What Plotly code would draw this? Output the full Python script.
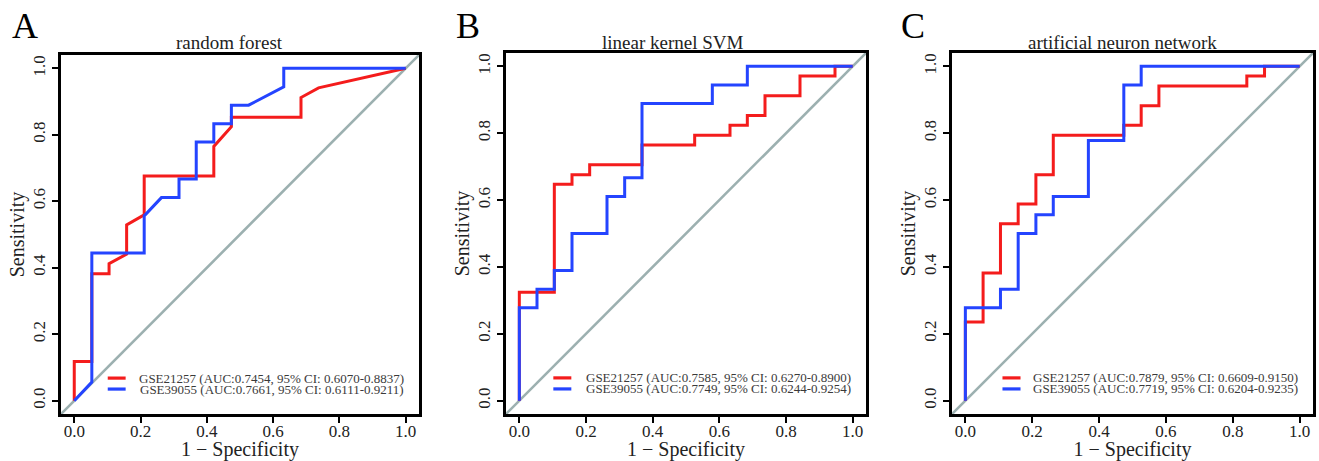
import plotly.graph_objects as go

# ---------------- data ----------------
panel_letters = ["A", "B", "C"]
panel_titles = ["random forest", "linear kernel SVM", "artificial neuron network"]
series_names = ["GSE21257", "GSE39055"]

# Panel A: random forest
rf_gse21257_fpr = [0, 0, 0.053, 0.053, 0.105, 0.105, 0.158, 0.158, 0.211, 0.211, 0.421, 0.421, 0.474, 0.474, 0.684, 0.684, 0.737, 1.0]
rf_gse21257_tpr = [0, 0.118, 0.118, 0.382, 0.382, 0.412, 0.441, 0.529, 0.559, 0.676, 0.676, 0.765, 0.824, 0.853, 0.853, 0.912, 0.941, 1.0]
rf_gse39055_fpr = [0, 0.053, 0.053, 0.211, 0.211, 0.263, 0.316, 0.316, 0.368, 0.368, 0.421, 0.421, 0.474, 0.474, 0.526, 0.632, 0.632, 1.0]
rf_gse39055_tpr = [0, 0.056, 0.444, 0.444, 0.556, 0.611, 0.611, 0.667, 0.667, 0.778, 0.778, 0.833, 0.833, 0.889, 0.889, 0.944, 1.0, 1.0]

# Panel B: linear kernel SVM
svm_gse21257_fpr = [0, 0, 0.105, 0.105, 0.158, 0.158, 0.211, 0.211, 0.368, 0.368, 0.526, 0.526, 0.632, 0.632, 0.684, 0.684, 0.737, 0.737, 0.842, 0.842, 0.947, 0.947, 1.0]
svm_gse21257_tpr = [0, 0.324, 0.324, 0.647, 0.647, 0.676, 0.676, 0.706, 0.706, 0.765, 0.765, 0.794, 0.794, 0.824, 0.824, 0.853, 0.853, 0.912, 0.912, 0.971, 0.971, 1.0, 1.0]
svm_gse39055_fpr = [0, 0, 0.053, 0.053, 0.105, 0.105, 0.158, 0.158, 0.263, 0.263, 0.316, 0.316, 0.368, 0.368, 0.579, 0.579, 0.684, 0.684, 1.0]
svm_gse39055_tpr = [0, 0.278, 0.278, 0.333, 0.333, 0.389, 0.389, 0.5, 0.5, 0.611, 0.611, 0.667, 0.667, 0.889, 0.889, 0.944, 0.944, 1.0, 1.0]

# Panel C: artificial neuron network
ann_gse21257_fpr = [0, 0, 0.053, 0.053, 0.105, 0.105, 0.158, 0.158, 0.211, 0.211, 0.263, 0.263, 0.474, 0.474, 0.526, 0.526, 0.579, 0.579, 0.842, 0.842, 0.895, 0.895, 1.0]
ann_gse21257_tpr = [0, 0.235, 0.235, 0.382, 0.382, 0.529, 0.529, 0.588, 0.588, 0.676, 0.676, 0.794, 0.794, 0.824, 0.824, 0.882, 0.882, 0.941, 0.941, 0.971, 0.971, 1.0, 1.0]
ann_gse39055_fpr = [0, 0, 0.105, 0.105, 0.158, 0.158, 0.211, 0.211, 0.263, 0.263, 0.368, 0.368, 0.474, 0.474, 0.526, 0.526, 1.0]
ann_gse39055_tpr = [0, 0.278, 0.278, 0.333, 0.333, 0.5, 0.5, 0.556, 0.556, 0.611, 0.611, 0.778, 0.778, 0.944, 0.944, 1.0, 1.0]

auc_labels = [
    ["(AUC:0.7454, 95% CI: 0.6070-0.8837)", "(AUC:0.7661, 95% CI: 0.6111-0.9211)"],
    ["(AUC:0.7585, 95% CI: 0.6270-0.8900)", "(AUC:0.7749, 95% CI: 0.6244-0.9254)"],
    ["(AUC:0.7879, 95% CI: 0.6609-0.9150)", "(AUC:0.7719, 95% CI: 0.6204-0.9235)"],
]
chance_line = [-0.05, 1.05]
tick_vals = [0, 0.2, 0.4, 0.6, 0.8, 1.0]
tick_text = ["0.0", "0.2", "0.4", "0.6", "0.8", "1.0"]

curves = [
    [(rf_gse21257_fpr, rf_gse21257_tpr), (rf_gse39055_fpr, rf_gse39055_tpr)],
    [(svm_gse21257_fpr, svm_gse21257_tpr), (svm_gse39055_fpr, svm_gse39055_tpr)],
    [(ann_gse21257_fpr, ann_gse21257_tpr), (ann_gse39055_fpr, ann_gse39055_tpr)],
]

# ---------------- styling / layout ----------------
W, H = 1319, 461
FONT = "Liberation Serif, Times New Roman, serif"
colors = ["#f41c1c", "#2444ff"]
grey = "#9cb0b0"

# plot boxes in pixels: (left, right, top, bottom)
boxes = [(61, 419, 55, 414), (506, 866, 53, 414), (952, 1313, 53, 414)]
letter_x = [10, 454, 899]
title_cx = [229, 673, 1122]
swatch_x = [(0.101, 0.155), (0.102, 0.156), (0.111, 0.165)]
legend_rows = [0.068, 0.035]

fig = go.Figure()
annotations = []
shapes = []

for i in range(3):
    xa = "x" if i == 0 else f"x{i+1}"
    ya = "y" if i == 0 else f"y{i+1}"
    # chance line
    fig.add_trace(go.Scatter(x=chance_line, y=chance_line, mode="lines",
                             line=dict(color=grey, width=2.6), xaxis=xa, yaxis=ya,
                             showlegend=False, hoverinfo="skip"))
    for j, (fx, ty) in enumerate(curves[i]):
        fig.add_trace(go.Scatter(x=fx, y=ty, mode="lines", name=series_names[j],
                                 line=dict(color=colors[j], width=3), xaxis=xa, yaxis=ya,
                                 showlegend=False))
    l, r, t, b = boxes[i]
    axkey = "xaxis" if i == 0 else f"xaxis{i+1}"
    aykey = "yaxis" if i == 0 else f"yaxis{i+1}"
    common = dict(range=[-0.04, 1.04], showgrid=False, zeroline=False,
                  showline=True, linecolor="black", linewidth=2.8, mirror=True,
                  ticks="outside", ticklen=6, tickwidth=1.6, tickcolor="black",
                  tickvals=tick_vals, ticktext=tick_text,
                  tickfont=dict(family=FONT, size=17, color="#222"),
                  automargin=False, fixedrange=True)
    fig.update_layout({
        axkey: dict(common, domain=[l / W, r / W], anchor=ya, ticklabelstandoff=-6,
                    title=dict(text="1 \u2212 Specificity", font=dict(family=FONT, size=20, color="#222"), standoff=4)),
        aykey: dict(common, domain=[1 - b / H, 1 - t / H], anchor=xa, tickangle=-90,
                    title=dict(text="Sensitivity", font=dict(family=FONT, size=20, color="#222"), standoff=1)),
    })
    # panel letter
    annotations.append(dict(text=panel_letters[i], x=letter_x[i] / W, y=1 - 26 / H, xref="paper", yref="paper",
                            xanchor="left", yanchor="middle", showarrow=False,
                            font=dict(family=FONT, size=36, color="black")))
    # panel title
    annotations.append(dict(text=panel_titles[i], x=title_cx[i] / W, y=1 - 42 / H, xref="paper", yref="paper",
                            xanchor="center", yanchor="middle", showarrow=False,
                            font=dict(family=FONT, size=19, color="#222")))
    # legend
    for j in range(2):
        annotations.append(dict(text=f"{series_names[j]} {auc_labels[i][j]}", x=1.0, y=legend_rows[j],
                                xref=xa, yref=ya, xanchor="right", yanchor="middle", showarrow=False,
                                font=dict(family=FONT, size=13, color="#3a3a3a")))
        shapes.append(dict(type="line", xref=xa, yref=ya, x0=swatch_x[i][0], x1=swatch_x[i][1],
                           y0=legend_rows[j], y1=legend_rows[j], line=dict(color=colors[j], width=3.2)))

fig.update_layout(width=W, height=H, margin=dict(l=0, r=0, t=0, b=0),
                  paper_bgcolor="white", plot_bgcolor="white",
                  annotations=annotations, shapes=shapes, showlegend=False)

fig.write_html("out.html", config={"displayModeBar": False},
               post_script="document.body.style.margin='0';document.body.style.padding='0';document.body.style.overflow='hidden';")
